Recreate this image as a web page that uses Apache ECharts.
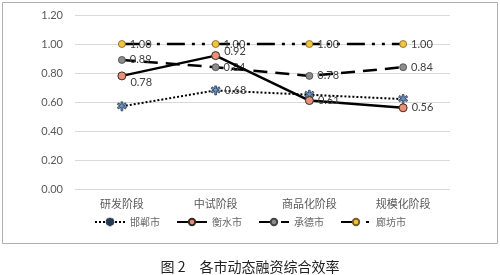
<!DOCTYPE html>
<html><head><meta charset="utf-8">
<script src="https://cdn.jsdelivr.net/npm/echarts@6/dist/echarts.min.js"></script>
<style>html,body{margin:0;padding:0;background:#fff}#c{width:500px;height:275px}</style>
</head><body><div id="c"></div>
<script>
const categories = ['研发阶段','中试阶段','商品化阶段','规模化阶段'];
const handan = [0.57, 0.68, 0.65, 0.62];
const hengshui = [0.78, 0.92, 0.61, 0.56];
const chengde = [0.89, 0.84, 0.78, 0.84];
const langfang = [1.00, 1.00, 1.00, 1.00];
const yTicks = [0, 0.2, 0.4, 0.6, 0.8, 1.0, 1.2];
const handanLabels = [false, true, false, false];

const chart = echarts.init(document.getElementById('c'));
const flower = 'path://M4,0 L6,0 L6,3 L9,1 L10,3 L7,4.5 L10,6 L9,8 L6,6 L6,10 L4,10 L4,6 L1,8 L0,6 L3,4.5 L0,3 L1,1 L4,3 Z';
function lbl(){ return {show:true, position:'right', distance:4, color:'#404040', fontSize:11, fontFamily:'Lato, "Noto Sans CJK SC"', formatter:p=>p.value.toFixed(2)}; }
chart.setOption({
  animation:false,
  textStyle:{fontFamily:'"Noto Sans CJK SC", sans-serif'},
  grid:{left:75, right:50, top:15, bottom:86},
  title:{text:'图 2　各市动态融资综合效率', left:'center', top:259, padding:0, textStyle:{fontSize:14, lineHeight:16, fontWeight:'normal', color:'#222', fontFamily:'"Noto Sans CJK SC"'}},
  graphic:[{type:'rect', shape:{x:2.5,y:2.5,width:495,height:241}, style:{fill:'none', stroke:'#b0b0b0', lineWidth:1}, z:-1}],
  legend:{top:212, left:'center', itemWidth:30, itemHeight:8, itemGap:16, textStyle:{fontSize:10, color:'#666'},
    data:['邯郸市','衡水市','承德市','廊坊市']},
  xAxis:{type:'category', data:categories, boundaryGap:true, axisLine:{show:false}, axisTick:{show:false},
    axisLabel:{color:'#595959', fontSize:11, margin:9}},
  yAxis:{type:'value', min:0, max:1.2, interval:0.2, axisLine:{show:false}, axisTick:{show:false},
    axisLabel:{color:'#595959', fontSize:11, margin:12, fontFamily:'Lato', formatter:v=>v.toFixed(2)},
    splitLine:{lineStyle:{color:'#d9d9d9', width:1}}},
  series:[
    {name:'邯郸市', type:'line', data:handan.map((v,i)=>({value:v, label:{show:handanLabels[i]}})), symbol:flower, symbolSize:9,
      itemStyle:{color:'#6f93c0', borderColor:'#2a3a55', borderWidth:0.8},
      lineStyle:{color:'#000', width:2, type:[2,2]}, label:lbl(), z:2},
    {name:'衡水市', type:'line', data:hengshui.map((v,i)=>({value:v, label:{offset:[0,[7,-4,0,0][i]]}})), symbol:'circle', symbolSize:8,
      itemStyle:{color:'#e9907a', borderColor:'#3a2a20', borderWidth:1},
      lineStyle:{color:'#000', width:2.5}, label:lbl(), z:4},
    {name:'承德市', type:'line', data:chengde, symbol:'circle', symbolSize:7,
      itemStyle:{color:'#8c8c8c', borderColor:'#444', borderWidth:0.8},
      lineStyle:{color:'#000', width:2.5, type:[14,8]}, label:lbl(), z:3},
    {name:'廊坊市', type:'line', data:langfang, symbol:'circle', symbolSize:7,
      itemStyle:{color:'#f2c443', borderColor:'#7a6020', borderWidth:0.8},
      lineStyle:{color:'#000', width:2.5, type:[18,7,3,7,3,7]}, label:lbl(), z:3}
  ]
});
</script></body></html>
